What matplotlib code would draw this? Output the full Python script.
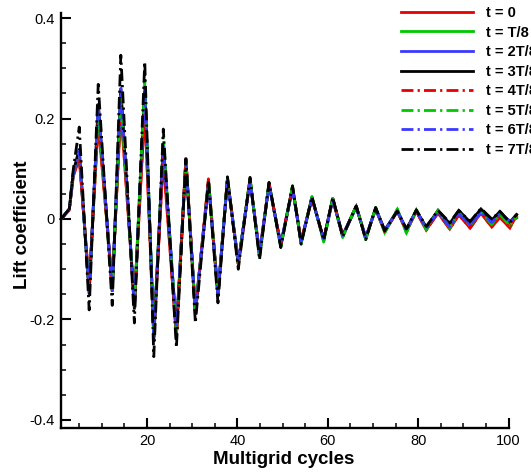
import matplotlib
matplotlib.use("Agg")
import matplotlib.pyplot as plt
from matplotlib.ticker import FixedLocator, MultipleLocator

plt.rcParams['font.family'] = ['Liberation Sans', 'DejaVu Sans']

# vertex positions (multigrid cycle) shared by all series
cycles = [1, 2.8, 3.7, 5.0, 7.2, 9.2, 12.3, 14.2, 17.2, 19.5, 21.5, 23.6, 26.5, 28.6,
          30.7, 33.6, 35.7, 37.8, 40.2, 42.8, 44.9, 47.0, 49.6, 52.2, 54.1, 56.5,
          59.1, 61.1, 63.3, 66.3, 68.4, 70.6, 72.6, 75.4, 77.4, 79.6, 81.8, 84.4,
          87.0, 89.0, 91.5, 93.9, 96.3, 98.1, 100.3, 101.8]

cl_t0 = [0, 0.018, 0.085, 0.12, -0.13, 0.19, -0.13, 0.216, -0.165, 0.216, -0.23, 0.118,
         -0.234, 0.122, -0.184, 0.08, -0.15, 0.08, -0.09, 0.078, -0.068, 0.07, -0.05,
         0.064, -0.044, 0.042, -0.04, 0.04, -0.032, 0.025, -0.037, 0.02, -0.025, 0.015,
         -0.024, 0.015, -0.022, 0.012, -0.02, 0.008, -0.018, 0.012, -0.016, 0.003, -0.018, 0.008]
cl_t1 = [0, 0.02, 0.09, 0.13, -0.14, 0.21, -0.14, 0.24, -0.17, 0.265, -0.235, 0.15,
         -0.225, 0.115, -0.185, 0.075, -0.15, 0.08, -0.088, 0.08, -0.075, 0.07, -0.056,
         0.064, -0.048, 0.044, -0.045, 0.04, -0.036, 0.026, -0.04, 0.022, -0.027, 0.019,
         -0.027, 0.018, -0.021, 0.017, -0.018, 0.013, -0.013, 0.014, -0.01, 0.009, -0.012, 0.004]
cl_t2 = [0, 0.02, 0.09, 0.13, -0.143, 0.225, -0.14, 0.255, -0.175, 0.262, -0.232, 0.142,
         -0.218, 0.112, -0.18, 0.07, -0.145, 0.076, -0.084, 0.074, -0.066, 0.067, -0.05,
         0.06, -0.044, 0.04, -0.04, 0.038, -0.033, 0.023, -0.036, 0.02, -0.023, 0.016,
         -0.022, 0.016, -0.019, 0.014, -0.017, 0.012, -0.012, 0.013, -0.007, 0.01, -0.004, 0.002]
cl_t3 = [0, 0.02, 0.095, 0.14, -0.15, 0.23, -0.145, 0.26, -0.18, 0.265, -0.24, 0.15,
         -0.23, 0.118, -0.19, 0.074, -0.155, 0.08, -0.09, 0.08, -0.075, 0.072, -0.054,
         0.064, -0.048, 0.043, -0.042, 0.042, -0.034, 0.026, -0.04, 0.022, -0.022, 0.016,
         -0.02, 0.017, -0.016, 0.017, -0.009, 0.017, -0.006, 0.02, -0.002, 0.015, -0.006, 0.009]
cl_t4 = [0, 0.018, 0.088, 0.125, -0.135, 0.2, -0.135, 0.225, -0.17, 0.225, -0.235, 0.125,
         -0.232, 0.12, -0.186, 0.08, -0.152, 0.082, -0.09, 0.079, -0.07, 0.07, -0.052,
         0.063, -0.045, 0.042, -0.041, 0.04, -0.033, 0.025, -0.038, 0.02, -0.025, 0.015,
         -0.024, 0.015, -0.022, 0.012, -0.02, 0.009, -0.018, 0.012, -0.016, 0.004, -0.017, 0.01]
cl_t5 = [0, 0.02, 0.09, 0.135, -0.145, 0.215, -0.142, 0.245, -0.172, 0.273, -0.238, 0.163,
         -0.228, 0.116, -0.186, 0.076, -0.152, 0.082, -0.088, 0.082, -0.076, 0.072, -0.056,
         0.066, -0.05, 0.045, -0.046, 0.041, -0.037, 0.027, -0.041, 0.023, -0.028, 0.02,
         -0.028, 0.018, -0.021, 0.017, -0.018, 0.013, -0.013, 0.014, -0.011, 0.009, -0.013, 0.003]
cl_t6 = [0, 0.02, 0.09, 0.135, -0.145, 0.23, -0.142, 0.26, -0.178, 0.265, -0.235, 0.145,
         -0.22, 0.113, -0.182, 0.071, -0.147, 0.077, -0.086, 0.075, -0.067, 0.068, -0.05,
         0.06, -0.045, 0.041, -0.04, 0.038, -0.033, 0.023, -0.036, 0.02, -0.023, 0.016,
         -0.022, 0.016, -0.019, 0.014, -0.016, 0.011, -0.012, 0.013, -0.007, 0.01, -0.004, 0.003]
cl_t7 = [0, 0.02, 0.1, 0.183, -0.181, 0.268, -0.172, 0.326, -0.207, 0.313, -0.274, 0.179,
         -0.256, 0.12, -0.207, 0.076, -0.167, 0.084, -0.1, 0.083, -0.081, 0.073, -0.057,
         0.066, -0.05, 0.044, -0.042, 0.043, -0.035, 0.026, -0.041, 0.023, -0.024, 0.016,
         -0.02, 0.018, -0.015, 0.017, -0.007, 0.017, -0.005, 0.021, 0.0, 0.015, -0.007, 0.009]

labels = ['t = 0', 't = T/8', 't = 2T/8', 't = 3T/8', 't = 4T/8', 't = 5T/8', 't = 6T/8', 't = 7T/8']
series = [cl_t0, cl_t1, cl_t2, cl_t3, cl_t4, cl_t5, cl_t6, cl_t7]

xticks = [20, 40, 60, 80, 100]
yticks = [-0.4, -0.2, 0, 0.2, 0.4]
ytick_labels = ['-0.4', '-0.2', '0', '0.2', '0.4']

colors = ['#e60000', '#00c800', '#3a3aff', '#000000'] * 2
dashdot = (4.3, 1.5, 0.8, 1.5)

fig = plt.figure(figsize=(5.31, 4.72), dpi=100)
ax = fig.add_axes([60.5 / 531, 44 / 472, 448 / 531, 415 / 472])

for i, (ys, lab) in enumerate(zip(series, labels)):
    ln, = ax.plot(cycles, ys, color=colors[i], lw=2.0, label=lab, clip_on=False,
                  solid_joinstyle='miter')
    if i >= 4:
        ln.set_dashes(dashdot)

ax.set_xlim(0.85, 100)
ax.set_ylim(-0.416, 0.41)

ax.spines['top'].set_visible(False)
ax.spines['right'].set_visible(False)
for s in ['left', 'bottom']:
    ax.spines[s].set_linewidth(1.7)

ax.xaxis.set_major_locator(FixedLocator(xticks))
ax.xaxis.set_minor_locator(MultipleLocator(5))
ax.yaxis.set_major_locator(FixedLocator(yticks))
ax.set_yticklabels(ytick_labels)
ax.yaxis.set_minor_locator(MultipleLocator(0.05))
ax.tick_params(which='major', direction='in', length=7.2, width=1.5, labelsize=10.5, pad=4)
ax.tick_params(which='minor', direction='in', length=3.6, width=1.1)

ax.set_xlabel('Multigrid cycles', fontsize=13.5, fontweight='bold')
ax.set_ylabel('Lift coefficient', fontsize=13.5, fontweight='bold')
ax.xaxis.set_label_coords(0.499, -0.087)
ax.xaxis.label.set_va('baseline')
ax.yaxis.set_label_coords(-0.085, 0.49)
ax.yaxis.label.set_va('center')

leg = fig.legend(loc='upper left', bbox_to_anchor=(401 / 531, 1 - 6 / 472), frameon=False,
                 prop={'weight': 'bold', 'size': 10.5}, handlelength=4.95, handletextpad=0.9,
                 labelspacing=0.38, borderpad=0, borderaxespad=0)

fig.savefig('out.png', dpi=100)
